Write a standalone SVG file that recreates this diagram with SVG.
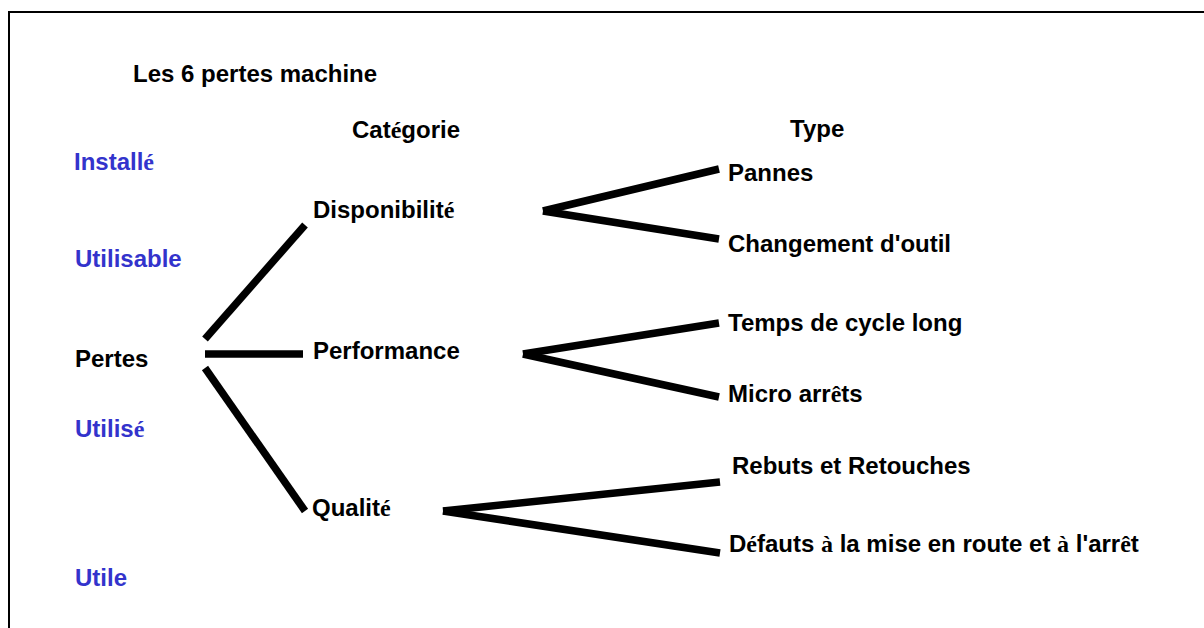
<svg xmlns="http://www.w3.org/2000/svg" width="1204" height="628" viewBox="0 0 1204 628">
<style>
text{font-family:"Liberation Sans",Arial,sans-serif;font-weight:bold;font-size:24px;fill:#000}
.b{fill:#3333CC}
.s{font-family:"Liberation Serif","Times New Roman",serif}
.c line{stroke:#000;stroke-width:7.5;stroke-linecap:butt}
</style>
<rect width="1204" height="628" fill="#fff"/>
<path d="M9,628 V12 H1204" fill="none" stroke="#000" stroke-width="2"/>
<g id="title"><text x="133" y="82">Les 6 pertes machine</text></g>
<g id="h-categorie"><text x="352" y="138">Cat<tspan class="s">é</tspan>gorie</text></g>
<g id="h-type"><text x="790" y="137">Type</text></g>
<g id="lvl-installe"><text class="b" x="74" y="170">Install<tspan class="s">é</tspan></text></g>
<g id="lvl-utilisable"><text class="b" x="75" y="267">Utilisable</text></g>
<g id="lvl-utilise"><text class="b" x="75" y="437">Utilis<tspan class="s">é</tspan></text></g>
<g id="lvl-utile"><text class="b" x="75" y="586">Utile</text></g>
<g id="pertes"><text x="75" y="367">Pertes</text></g>
<g id="disponibilite"><text x="313" y="218">Disponibilit<tspan class="s">é</tspan></text></g>
<g id="performance"><text x="313" y="359">Performance</text></g>
<g id="qualite"><text x="312" y="516">Qualit<tspan class="s">é</tspan></text></g>
<g id="pannes"><text x="728" y="181">Pannes</text></g>
<g id="changement"><text x="728" y="252">Changement d'outil</text></g>
<g id="temps"><text x="728" y="331">Temps de cycle long</text></g>
<g id="micro"><text x="728" y="402">Micro arr<tspan class="s">ê</tspan>ts</text></g>
<g id="rebuts"><text x="732" y="474">Rebuts et Retouches</text></g>
<g id="defauts"><text x="729" y="552">D<tspan class="s">é</tspan>fauts <tspan class="s">à</tspan> la mise en route et <tspan class="s">à</tspan> l'arr<tspan class="s">ê</tspan>t</text></g>
<g id="connectors" class="c">
<line x1="205" y1="339" x2="305" y2="225"/>
<line x1="205" y1="354" x2="303" y2="354"/>
<line x1="205" y1="368" x2="305" y2="511"/>
<line x1="543" y1="211" x2="719" y2="169"/>
<line x1="543" y1="211" x2="719" y2="239"/>
<line x1="523" y1="354" x2="719" y2="323"/>
<line x1="523" y1="354" x2="719" y2="397"/>
<line x1="443" y1="511" x2="720" y2="482"/>
<line x1="443" y1="511" x2="720" y2="553"/>
</g>
</svg>
